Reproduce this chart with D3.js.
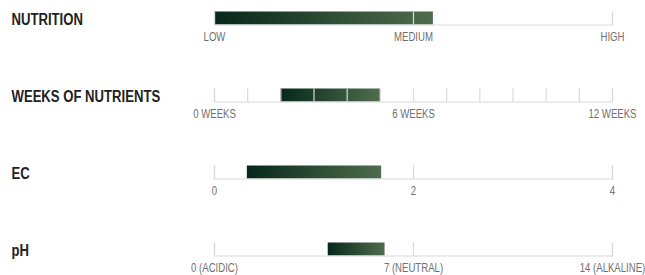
<!DOCTYPE html>
<html>
<head>
<meta charset="utf-8">
<script src="https://cdn.jsdelivr.net/npm/d3@7"></script>
<style>
  body { margin: 0; background: #fff; }
  .title { font-family: "Liberation Sans", Arial, sans-serif; font-weight: bold; font-size: 16px; fill: #222; }
  .axis text { font-family: "Liberation Sans", Arial, sans-serif; font-size: 12px; fill: #707070; }
  .axis line, .axis path { stroke: #d9d9d9; stroke-width: 1.2; }
</style>
</head>
<body>
<div class="chart"></div>
<script>
var width = 645, height = 275;
var x0 = 214, x1 = 612;
var rowTop = 24.5, rowStep = 77, barH = 13;

// data
let titles = ['NUTRITION', 'WEEKS OF NUTRIENTS', 'EC', 'pH'];
let domains = [[0, 2], [0, 12], [0, 4], [0, 14]];
let barStart = [0, 2, 0.33, 4];
let barEnd = [1.1, 5, 1.68, 6];
let tickValues = [
  [0, 1, 2],
  [0, 1, 2, 3, 4, 5, 6, 7, 8, 9, 10, 11, 12],
  [0, 2, 4],
  [0, 7, 14]
];
let tickLabels = [
  {0: 'LOW', 1: 'MEDIUM', 2: 'HIGH'},
  {0: '0 WEEKS', 6: '6 WEEKS', 12: '12 WEEKS'},
  {0: '0', 2: '2', 4: '4'},
  {0: '0 (ACIDIC)', 7: '7 (NEUTRAL)', 14: '14 (ALKALINE)'}
];

let svg = d3.select('.chart')
  .append('svg')
  .attr('width', width)
  .attr('height', height);

let defs = svg.append('defs');
let grad = defs.append('linearGradient')
  .attr('id', 'barGrad')
  .attr('x1', '0%').attr('x2', '100%')
  .attr('y1', '0%').attr('y2', '0%');
grad.append('stop').attr('offset', '0%').attr('stop-color', '#06281b');
grad.append('stop').attr('offset', '100%').attr('stop-color', '#4f6d4c');

titles.forEach((t, i) => {
  let y = rowTop + i * rowStep;
  let xScale = d3.scaleLinear()
    .domain(domains[i])
    .range([x0, x1]);

  // no condensed font installed, so squeeze text horizontally
  svg.append('text')
    .attr('class', 'title')
    .attr('transform', `translate(11.5, ${y + 0.5}) scale(0.82, 1)`)
    .text(t);

  svg.append('rect')
    .attr('x', xScale(barStart[i]))
    .attr('y', y - barH)
    .attr('width', xScale(barEnd[i]) - xScale(barStart[i]))
    .attr('height', barH)
    .style('fill', 'url(#barGrad)');

  let axis = d3.axisBottom(xScale)
    .tickValues(tickValues[i])
    .tickSize(-barH)
    .tickPadding(8)
    .tickFormat(d => tickLabels[i][d] || '');

  svg.append('g')
    .attr('class', 'axis')
    .attr('transform', `translate(0, ${y})`)
    .call(axis)
    .selectAll('text')
    .attr('transform', 'scale(0.8, 1)');
});
</script>
</body>
</html>
